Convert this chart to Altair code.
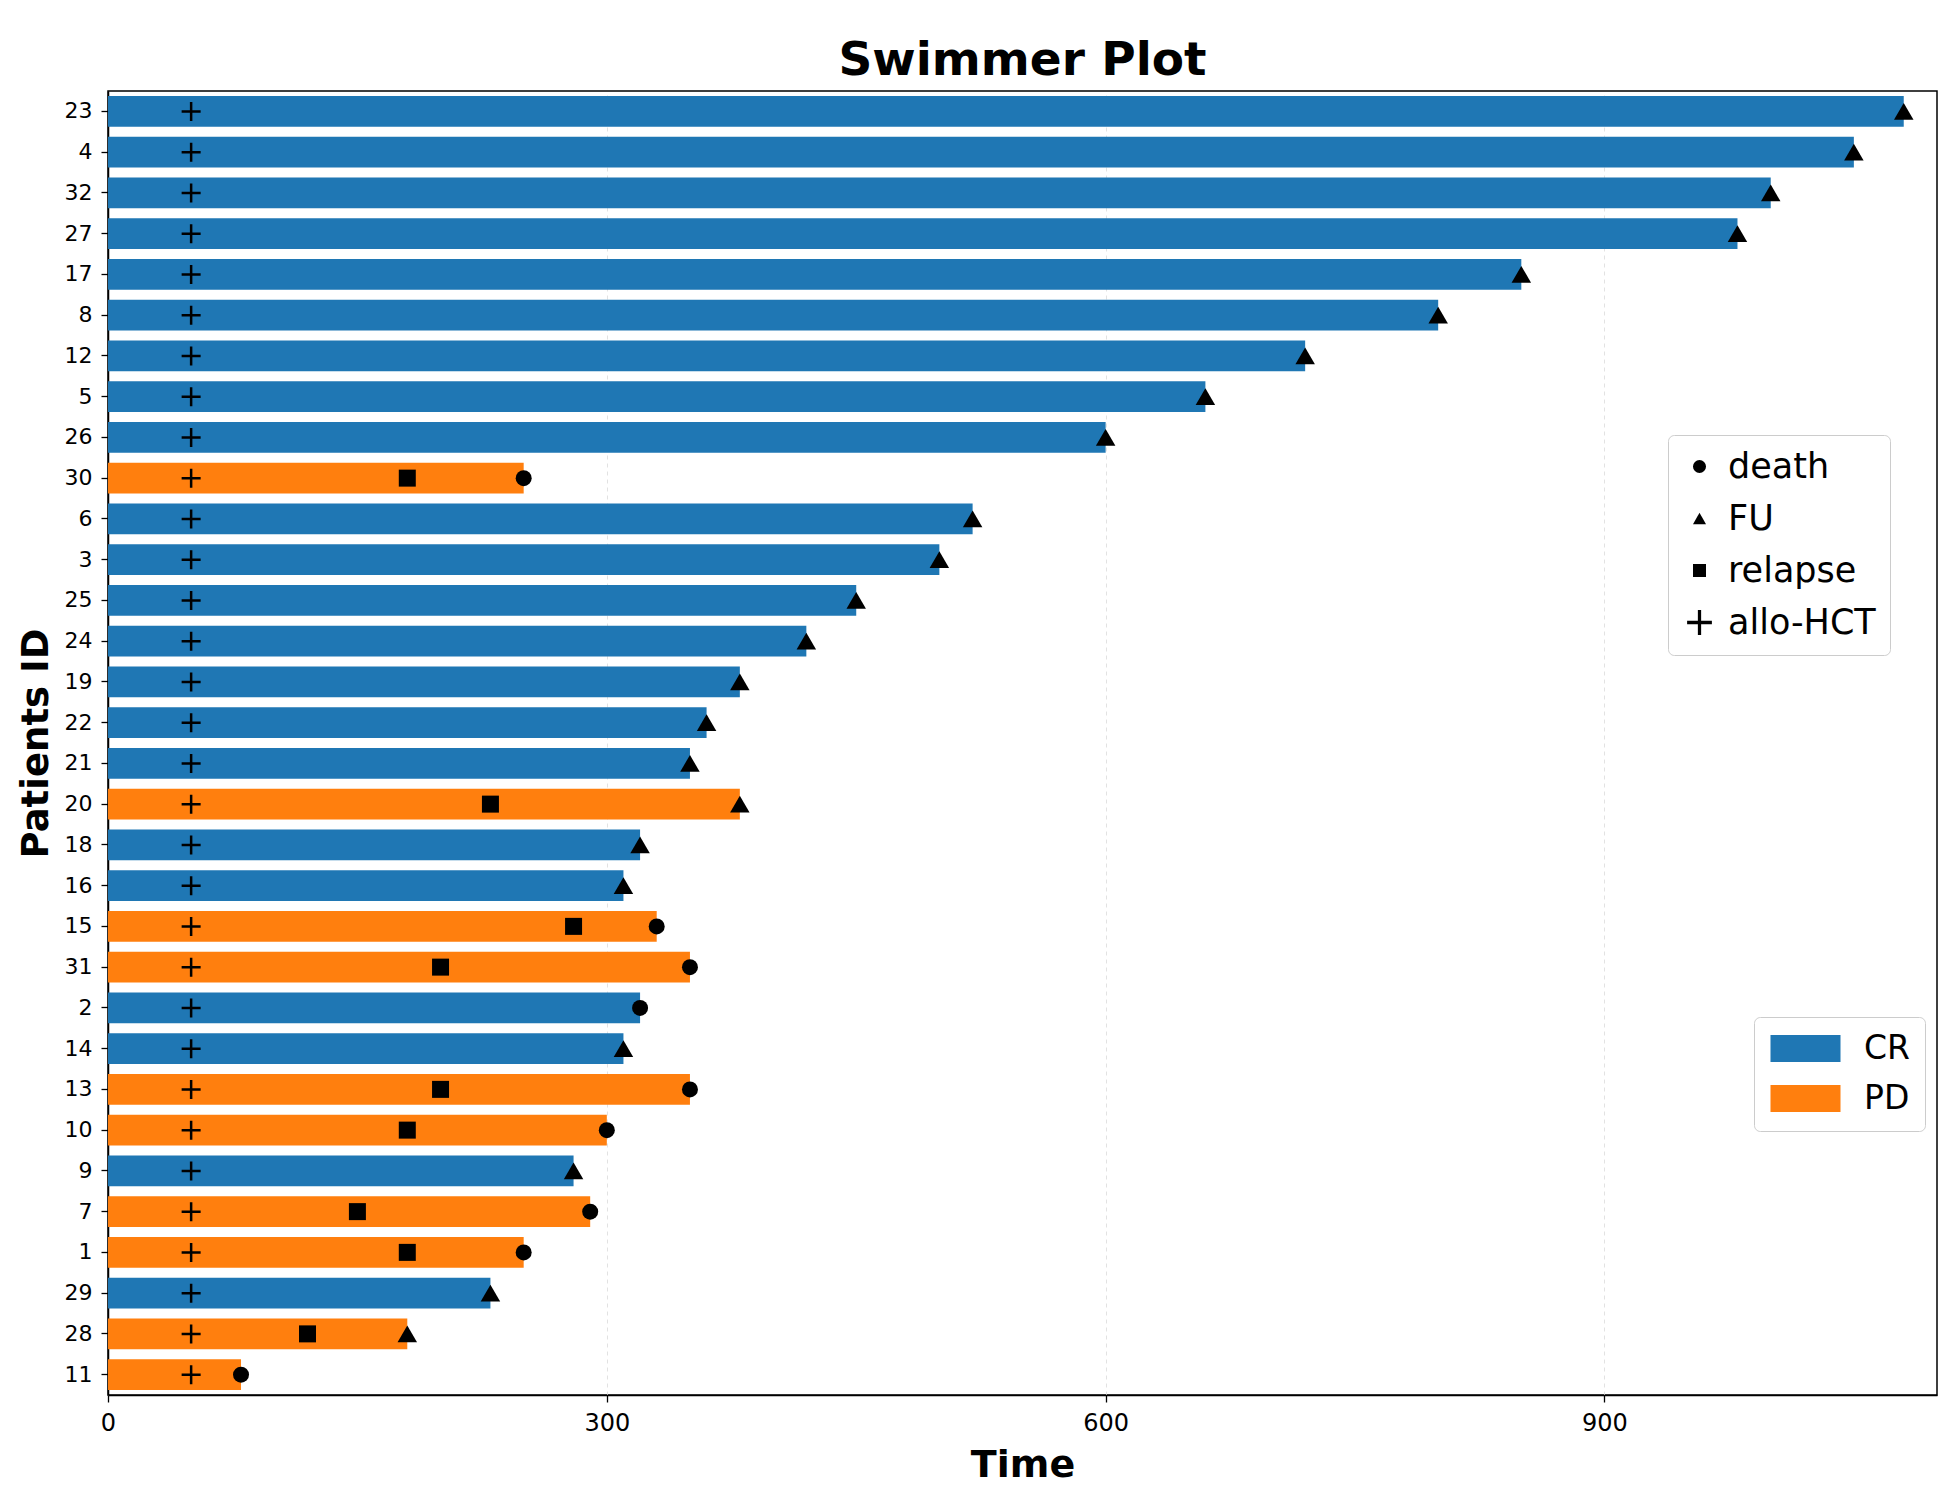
import altair as alt
import pandas as pd

# ---- data ----
patients = ["23", "4", "32", "27", "17", "8", "12", "5", "26", "30", "6", "3", "25", "24", "19", "22",
            "21", "20", "18", "16", "15", "31", "2", "14", "13", "10", "9", "7", "1", "29", "28", "11"]
status = ["CR", "CR", "CR", "CR", "CR", "CR", "CR", "CR", "CR", "PD", "CR", "CR", "CR", "CR", "CR", "CR",
          "CR", "PD", "CR", "CR", "PD", "PD", "CR", "CR", "PD", "PD", "CR", "PD", "PD", "CR", "PD", "PD"]
duration = [1080, 1050, 1000, 980, 850, 800, 720, 660, 600, 250, 520, 500, 450, 420, 380, 360,
            350, 380, 320, 310, 330, 350, 320, 310, 350, 300, 280, 290, 250, 230, 180, 80]
relapse = [None, None, None, None, None, None, None, None, None, 180, None, None, None, None, None, None,
           None, 230, None, None, 280, 200, None, None, 200, 180, None, 150, 180, None, 120, None]
end_event = ["FU", "FU", "FU", "FU", "FU", "FU", "FU", "FU", "FU", "death", "FU", "FU", "FU", "FU", "FU", "FU",
             "FU", "FU", "FU", "FU", "death", "death", "death", "FU", "death", "death", "FU", "death", "death",
             "FU", "FU", "death"]
hct_time = 50

status_domain = ["CR", "PD"]
status_colors = ["#1f77b4", "#ff7f0e"]
event_domain = ["death", "FU", "relapse", "allo-HCT"]
x_ticks = [0, 300, 600, 900]

bars = pd.DataFrame({"patient": patients, "status": status, "duration": duration})
rows = []
for p, d, r, e in zip(patients, duration, relapse, end_event):
    rows.append({"patient": p, "event": "allo-HCT", "time": hct_time})
    if r is not None:
        rows.append({"patient": p, "event": "relapse", "time": r})
    rows.append({"patient": p, "event": e, "time": d})
events = pd.DataFrame(rows)

FONT = "DejaVu Sans"
plus_path = ("M-1.9,-0.25L-0.25,-0.25L-0.25,-1.9L0.25,-1.9L0.25,-0.25L1.9,-0.25L1.9,0.25L0.25,0.25"
             "L0.25,1.9L-0.25,1.9L-0.25,0.25L-1.9,0.25Z")
swatch_path = "M-2.593,-1L2.593,-1L2.593,1L-2.593,1Z"

y_enc = alt.Y(
    "patient:N",
    scale=alt.Scale(domain=patients, paddingInner=0.25, paddingOuter=0.125),
    axis=alt.Axis(title="Patients ID", titleFontSize=37, titleFontWeight="bold", titleFont=FONT,
                  titleAngle=-90, titleX=-61, titleY=652, titleBaseline="alphabetic", titleAlign="center",
                  labelFontSize=22, labelFont=FONT, labelColor="black", labelPadding=9,
                  tickSize=7, tickColor="black", tickWidth=1.3, domainColor="black", domainWidth=1.5,
                  grid=False),
)
x_scale = alt.Scale(domain=[0, 1100], nice=False, zero=True)
x_axis = alt.Axis(title="Time", values=x_ticks, format="d", titleFontSize=38, titleFontWeight="bold",
                  titleFont=FONT, titleY=81, titleBaseline="alphabetic",
                  labelFontSize=24, labelFont=FONT, labelColor="black", labelPadding=9, labelFlush=False,
                  tickSize=7, tickColor="black", tickWidth=1.3, domainColor="black", domainWidth=1.5,
                  grid=True, gridDash=[4, 4], gridColor="#e2e2e2", gridWidth=1)

bar_layer = alt.Chart(bars).mark_bar(opacity=1).encode(
    x=alt.X("duration:Q", scale=x_scale, axis=x_axis),
    y=y_enc,
    color=alt.Color("status:N", scale=alt.Scale(domain=status_domain, range=status_colors),
                    legend=alt.Legend(title=None, orient="none", legendX=1646, legendY=926,
                                      symbolType=swatch_path, symbolSize=729, symbolStrokeWidth=0,
                                      symbolOpacity=1, symbolOffset=20, labelOffset=42,
                                      labelFontSize=33, labelFont=FONT, labelColor="black",
                                      rowPadding=16, padding=15, strokeColor="#cccccc",
                                      cornerRadius=6, fillColor="white")),
)

shape_scale = alt.Scale(domain=event_domain, range=["circle", "triangle-up", "square", plus_path])
shape_legend = alt.Legend(title=None, orient="none", legendX=1560, legendY=344,
                          symbolSize=170, symbolFillColor="black", symbolStrokeWidth=0,
                          symbolOffset=0, labelOffset=11, labelFontSize=35, labelFont=FONT,
                          labelColor="black", rowPadding=16, padding=14, strokeColor="#cccccc",
                          cornerRadius=6, fillColor="white")

marker_sizes = {"death": 256, "FU": 380, "relapse": 289, "allo-HCT": 100}
marker_layers = []
for ev in event_domain:
    layer = alt.Chart(events).transform_filter(alt.datum.event == ev).mark_point(
        filled=True, color="black", opacity=1, size=marker_sizes[ev], strokeWidth=0
    ).encode(
        x=alt.X("time:Q", scale=x_scale),
        y=alt.Y("patient:N"),
        shape=alt.Shape("event:N", scale=shape_scale, legend=shape_legend),
    )
    marker_layers.append(layer)

chart = alt.layer(bar_layer, *marker_layers).properties(
    width=1829, height=1304,
    title=alt.TitleParams("Swimmer Plot", fontSize=47, fontWeight="bold", font=FONT, anchor="middle",
                          baseline="alphabetic", offset=14, dy=45, color="black"),
    padding={"left": 100, "top": 83, "right": 10, "bottom": 91},
    autosize=alt.AutoSizeParams(type="none"),
).configure(background="white").configure_view(stroke="black", strokeWidth=1.5)

chart.save("out.html", embed_options={"renderer": "svg", "actions": False})
